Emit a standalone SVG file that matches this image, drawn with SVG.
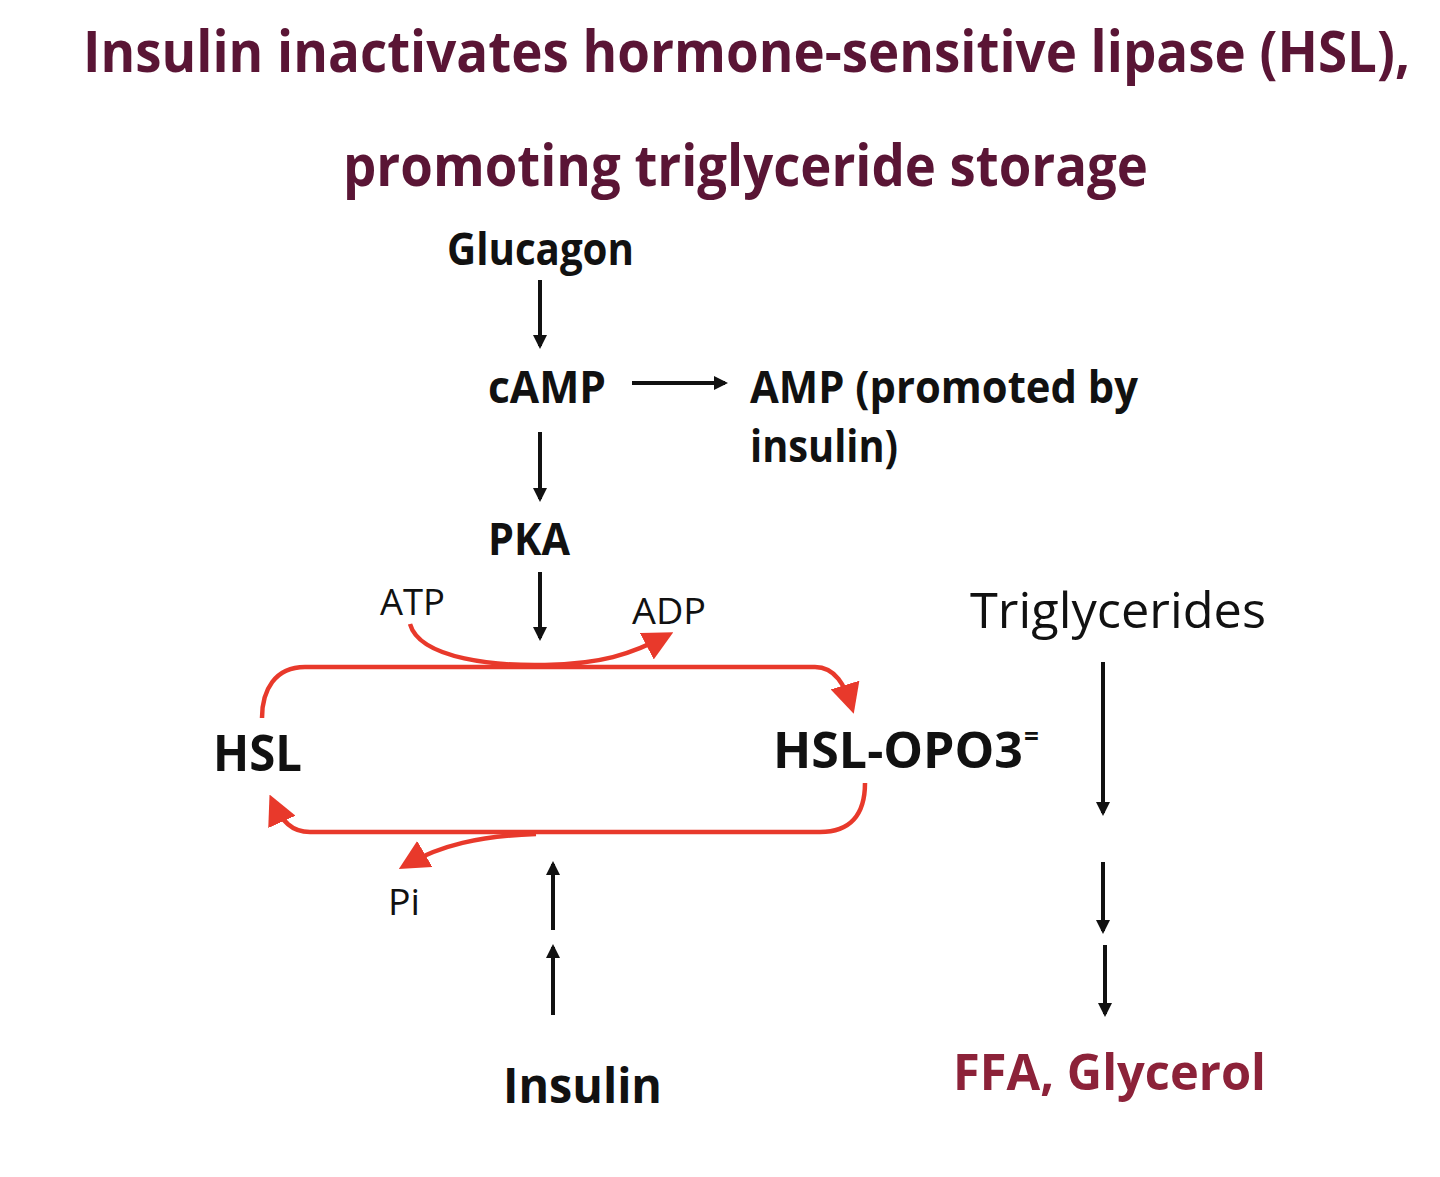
<svg xmlns="http://www.w3.org/2000/svg" width="1440" height="1177" viewBox="0 0 1440 1177">
<style>
text{font-family:"Open Sans","Noto Sans","Liberation Sans",sans-serif}
.t{font-weight:bold;fill:#5a1535;font-size:46px}
.b{font-weight:bold;fill:#111}
.r{fill:#111}
.blk{stroke:#111;stroke-width:4;fill:none}
.red{stroke:#e8392b;stroke-width:4.5;fill:none}
</style>
<defs>
<marker id="ab" markerWidth="14" markerHeight="14" refX="11" refY="7" orient="auto" markerUnits="userSpaceOnUse" viewBox="0 0 14 14"><path d="M0,0 L14,7 L0,14 z" fill="#111"/></marker>
<marker id="ar" markerWidth="30" markerHeight="30" refX="24" refY="15" orient="auto" markerUnits="userSpaceOnUse" viewBox="0 0 30 30"><path d="M0,0 L30,15 L0,30 z" fill="#e8392b"/></marker>
</defs>
<rect width="1440" height="1177" fill="#fff"/>
<g id="title">
<text class="t" transform="translate(83,72) scale(1,1.26)" x="0" y="0" textLength="1327" lengthAdjust="spacingAndGlyphs">Insulin inactivates hormone-sensitive lipase (HSL),</text>
<text class="t" transform="translate(343,186) scale(1,1.26)" x="0" y="0" textLength="805" lengthAdjust="spacingAndGlyphs">promoting triglyceride storage</text>
</g>
<g id="glucagon"><text class="b" x="447" y="265" font-size="44" textLength="187" lengthAdjust="spacingAndGlyphs">Glucagon</text></g>
<g id="camp"><text class="b" x="488" y="403" font-size="44" textLength="118" lengthAdjust="spacingAndGlyphs">cAMP</text></g>
<g id="amp">
<text class="b" x="750" y="403" font-size="44" textLength="388" lengthAdjust="spacingAndGlyphs">AMP (promoted by</text>
<text class="b" x="750" y="462" font-size="44" textLength="148" lengthAdjust="spacingAndGlyphs">insulin)</text>
</g>
<g id="pka"><text class="b" x="488" y="555" font-size="44" textLength="82" lengthAdjust="spacingAndGlyphs">PKA</text></g>
<g id="atp"><text class="r" x="380" y="615" font-size="36" textLength="65" lengthAdjust="spacingAndGlyphs">ATP</text></g>
<g id="adp"><text class="r" x="632" y="624" font-size="36" textLength="74" lengthAdjust="spacingAndGlyphs">ADP</text></g>
<g id="triglycerides"><text class="r" x="970" y="628" font-size="50" textLength="296" lengthAdjust="spacingAndGlyphs">Triglycerides</text></g>
<g id="hsl"><text class="b" x="213" y="771" font-size="50" textLength="89" lengthAdjust="spacingAndGlyphs">HSL</text></g>
<g id="hsl-opo3"><text class="b" x="773" y="768" font-size="50" textLength="250" lengthAdjust="spacingAndGlyphs">HSL-OPO3</text><text class="b" x="1024" y="746" font-size="26">=</text></g>
<g id="pi"><text class="r" x="388" y="915" font-size="36" textLength="32" lengthAdjust="spacingAndGlyphs">Pi</text></g>
<g id="insulin"><text class="b" x="503" y="1103" font-size="48" textLength="159" lengthAdjust="spacingAndGlyphs">Insulin</text></g>
<g id="ffa"><text class="b" x="953" y="1090" font-size="50" style="fill:#8c2239" textLength="313" lengthAdjust="spacingAndGlyphs">FFA, Glycerol</text></g>
<g id="connectors">
<line class="blk" x1="540" y1="280" x2="540" y2="346" marker-end="url(#ab)"/>
<line class="blk" x1="632" y1="383" x2="725" y2="383" marker-end="url(#ab)"/>
<line class="blk" x1="540" y1="432" x2="540" y2="499" marker-end="url(#ab)"/>
<line class="blk" x1="540" y1="572" x2="540" y2="638" marker-end="url(#ab)"/>
<line class="blk" x1="553" y1="930" x2="553" y2="864" marker-end="url(#ab)"/>
<line class="blk" x1="553" y1="1015" x2="553" y2="947" marker-end="url(#ab)"/>
<line class="blk" x1="1103" y1="662" x2="1103" y2="813" marker-end="url(#ab)"/>
<line class="blk" x1="1103" y1="862" x2="1103" y2="931" marker-end="url(#ab)"/>
<line class="blk" x1="1105" y1="945" x2="1105" y2="1014" marker-end="url(#ab)"/>
<path class="red" d="M262,718 C262,690 275,667 305,667 L815,667 C835,667 845,685 852,708" marker-end="url(#ar)"/>
<path class="red" d="M865,783 C865,815 850,832 820,832 L310,832 C292,832 282,822 272,800" marker-end="url(#ar)"/>
<path class="red" d="M410,624 C420,660 500,666 545,665 C600,664 630,655 668,635" marker-end="url(#ar)"/>
<path class="red" d="M536,834 C480,836 440,845 404,866" marker-end="url(#ar)"/>
</g>
</svg>
